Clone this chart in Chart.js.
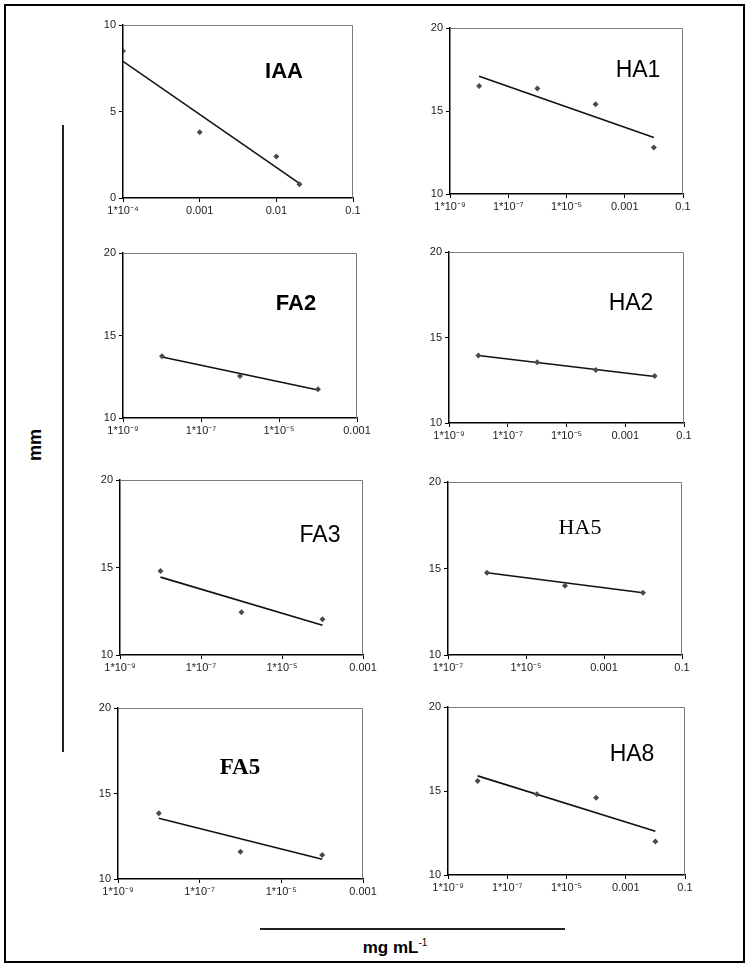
<!DOCTYPE html>
<html><head><meta charset="utf-8">
<script src="https://cdn.jsdelivr.net/npm/chart.js@4"></script>
<style>
html,body{margin:0;padding:0;background:#fff;}
#page{position:relative;width:748px;height:966px;overflow:hidden;background:#fff;font-family:"Liberation Sans",Arial,sans-serif;}
#frame{position:absolute;left:4px;top:4px;width:741px;height:959px;border:2px solid #000;box-sizing:border-box;}
canvas{position:absolute;}
.t{position:absolute;transform:translate(-50%,-50%);white-space:nowrap;color:#000;line-height:1;}
.sans{font-family:"Liberation Sans",Arial,sans-serif;}
.serif{font-family:"Liberation Serif","Times New Roman",serif;}
.hl{position:absolute;background:#222;}
</style>
</head>
<body>
<div id="page">
  <div id="frame"></div>
  <div class="hl" style="left:62px;top:125px;width:1.5px;height:627px;"></div>
  <div class="hl" style="left:260px;top:928px;width:305px;height:1.5px;"></div>
  <div class="t sans" style="left:35px;top:445px;font-size:18px;font-weight:bold;transform:translate(-50%,-50%) rotate(-90deg);">mm</div>
  <div class="t sans" style="left:395px;top:947px;font-size:17px;font-weight:bold;">mg mL<sup style="font-size:10px;font-weight:normal;vertical-align:7px;">-1</sup></div>
</div>
<script>
// ---------- data ----------
const logTicksA = [1e-4, 1e-3, 1e-2, 1e-1];
const logLabelsA = ['1*10\u207B\u2074', '0.001', '0.01', '0.1'];
const logTicksB = [1e-9, 1e-7, 1e-5, 1e-3, 1e-1];
const logLabelsB = ['1*10\u207B\u2079', '1*10\u207B\u2077', '1*10\u207B\u2075', '0.001', '0.1'];
const logTicksC = [1e-9, 1e-7, 1e-5, 1e-3];
const logLabelsC = ['1*10\u207B\u2079', '1*10\u207B\u2077', '1*10\u207B\u2075', '0.001'];
const logTicksD = [1e-7, 1e-5, 1e-3, 1e-1];
const logLabelsD = ['1*10\u207B\u2077', '1*10\u207B\u2075', '0.001', '0.1'];
const yTicksIAA = [0, 5, 10];
const yTicks1020 = [10, 15, 20];

const concIAA = [1e-4, 1e-3, 1e-2, 2e-2];
const mmIAA = [8.5, 3.8, 2.4, 0.8];
const trendXIAA = [1e-4, 2e-2];
const trendYIAA = [7.9, 0.85];

const concHA1 = [1e-8, 1e-6, 1e-4, 1e-2];
const mmHA1 = [16.5, 16.35, 15.4, 12.8];
const trendXHA1 = [1e-8, 1e-2];
const trendYHA1 = [17.1, 13.4];

const concFA2 = [1e-8, 1e-6, 1e-4];
const mmFA2 = [13.75, 12.55, 11.75];
const trendXFA2 = [1e-8, 1e-4];
const trendYFA2 = [13.7, 11.7];

const concHA2 = [1e-8, 1e-6, 1e-4, 1e-2];
const mmHA2 = [13.95, 13.55, 13.1, 12.75];
const trendXHA2 = [1e-8, 1e-2];
const trendYHA2 = [13.95, 12.72];

const concFA3 = [1e-8, 1e-6, 1e-4];
const mmFA3 = [14.8, 12.45, 12.05];
const trendXFA3 = [1e-8, 1e-4];
const trendYFA3 = [14.45, 11.7];

const concHA5 = [1e-6, 1e-4, 1e-2];
const mmHA5 = [14.75, 14.0, 13.6];
const trendXHA5 = [1e-6, 1e-2];
const trendYHA5 = [14.75, 13.6];

const concFA5 = [1e-8, 1e-6, 1e-4];
const mmFA5 = [13.85, 11.6, 11.4];
const trendXFA5 = [1e-8, 1e-4];
const trendYFA5 = [13.55, 11.15];

const concHA8 = [1e-8, 1e-6, 1e-4, 1e-2];
const mmHA8 = [15.6, 14.8, 14.6, 12.0];
const trendXHA8 = [1e-8, 1e-2];
const trendYHA8 = [15.9, 12.6];

// ---------- layout ----------
const padL = 40, padT = 14, padR = 28, padB = 24;
const page = document.getElementById('page');

const boxPlugin = {
  id: 'box',
  afterDraw(chart) {
    const { ctx, chartArea: a } = chart;
    ctx.save();
    ctx.strokeStyle = '#7a7a7a';
    ctx.lineWidth = 1;
    ctx.beginPath();
    ctx.moveTo(a.left, a.top + 0.5);
    ctx.lineTo(a.right - 0.5, a.top + 0.5);
    ctx.lineTo(a.right - 0.5, a.bottom);
    ctx.stroke();
    ctx.restore();
  }
};

function panel(p) {
  const c = document.createElement('canvas');
  const w = p.R - p.L + padL + padR, h = p.B - p.T + padT + padB;
  c.width = w; c.height = h;
  c.style.left = (p.L - padL) + 'px';
  c.style.top = (p.T - padT) + 'px';
  c.style.width = w + 'px'; c.style.height = h + 'px';
  page.appendChild(c);

  const t = document.createElement('div');
  t.className = 't ' + (p.serif ? 'serif' : 'sans');
  t.textContent = p.title;
  t.style.left = p.tx + 'px'; t.style.top = p.ty + 'px';
  t.style.fontSize = p.fs + 'px';
  t.style.fontWeight = p.bold ? 'bold' : 'normal';
  page.appendChild(t);

  new Chart(c, {
    type: 'scatter',
    data: {
      datasets: [
        {
          data: p.conc.map((x, i) => ({ x, y: p.mm[i] })),
          pointStyle: 'rectRot', pointRadius: 3,
          backgroundColor: '#4a4a4a', borderColor: '#4a4a4a', borderWidth: 0,
          showLine: false
        },
        {
          data: p.tx2.map((x, i) => ({ x, y: p.ty2[i] })),
          showLine: true, borderColor: '#111', borderWidth: 1.6,
          pointRadius: 0, tension: 0, fill: false
        }
      ]
    },
    options: {
      responsive: false, animation: false, devicePixelRatio: 1,
      layout: { padding: { top: padT, right: padR, left: 0, bottom: 0 } },
      plugins: { legend: { display: false }, tooltip: { enabled: false } },
      scales: {
        x: {
          type: 'logarithmic', min: p.xTicks[0], max: p.xTicks[p.xTicks.length - 1],
          afterBuildTicks: s => { s.ticks = p.xTicks.map(v => ({ value: v })); },
          afterFit: s => { s.height = padB; },
          ticks: {
            autoSkip: false, maxRotation: 0, minRotation: 0, padding: 2, color: '#222',
            font: { size: 11, family: '"Liberation Sans", Arial, sans-serif' },
            callback: (v, i) => p.xLabels[i]
          },
          grid: { drawOnChartArea: false, tickLength: 4, color: '#000', tickWidth: 1 },
          border: { color: '#000', width: 1.5 }
        },
        y: {
          type: 'linear', min: p.yTicks[0], max: p.yTicks[p.yTicks.length - 1],
          afterBuildTicks: s => { s.ticks = p.yTicks.map(v => ({ value: v })); },
          afterFit: s => { s.width = padL; },
          ticks: {
            padding: 3, color: '#222',
            font: { size: 11, family: '"Liberation Sans", Arial, sans-serif' }
          },
          grid: { drawOnChartArea: false, tickLength: 4, color: '#000', tickWidth: 1 },
          border: { color: '#000', width: 1.5 }
        }
      }
    },
    plugins: [boxPlugin]
  });
}

panel({ L:123, T:25, R:353, B:198, xTicks:logTicksA, xLabels:logLabelsA, yTicks:yTicksIAA,
  conc:concIAA, mm:mmIAA, tx2:trendXIAA, ty2:trendYIAA,
  title:'IAA', tx:284, ty:71, fs:22, bold:true });
panel({ L:450, T:28, R:683, B:194, xTicks:logTicksB, xLabels:logLabelsB, yTicks:yTicks1020,
  conc:concHA1, mm:mmHA1, tx2:trendXHA1, ty2:trendYHA1,
  title:'HA1', tx:638, ty:69, fs:23 });
panel({ L:123, T:253, R:357, B:418, xTicks:logTicksC, xLabels:logLabelsC, yTicks:yTicks1020,
  conc:concFA2, mm:mmFA2, tx2:trendXFA2, ty2:trendYFA2,
  title:'FA2', tx:296, ty:303, fs:22, bold:true });
panel({ L:449, T:252, R:684, B:423, xTicks:logTicksB, xLabels:logLabelsB, yTicks:yTicks1020,
  conc:concHA2, mm:mmHA2, tx2:trendXHA2, ty2:trendYHA2,
  title:'HA2', tx:631, ty:302, fs:23 });
panel({ L:120, T:480, R:363, B:655, xTicks:logTicksC, xLabels:logLabelsC, yTicks:yTicks1020,
  conc:concFA3, mm:mmFA3, tx2:trendXFA3, ty2:trendYFA3,
  title:'FA3', tx:320, ty:534, fs:23 });
panel({ L:448, T:482, R:682, B:655, xTicks:logTicksD, xLabels:logLabelsD, yTicks:yTicks1020,
  conc:concHA5, mm:mmHA5, tx2:trendXHA5, ty2:trendYHA5,
  title:'HA5', tx:580, ty:527, fs:22, serif:true });
panel({ L:118, T:708, R:363, B:879, xTicks:logTicksC, xLabels:logLabelsC, yTicks:yTicks1020,
  conc:concFA5, mm:mmFA5, tx2:trendXFA5, ty2:trendYFA5,
  title:'FA5', tx:240, ty:766, fs:23, bold:true, serif:true });
panel({ L:448, T:707, R:685, B:875, xTicks:logTicksB, xLabels:logLabelsB, yTicks:yTicks1020,
  conc:concHA8, mm:mmHA8, tx2:trendXHA8, ty2:trendYHA8,
  title:'HA8', tx:632, ty:753, fs:23 });
</script>
</body></html>
